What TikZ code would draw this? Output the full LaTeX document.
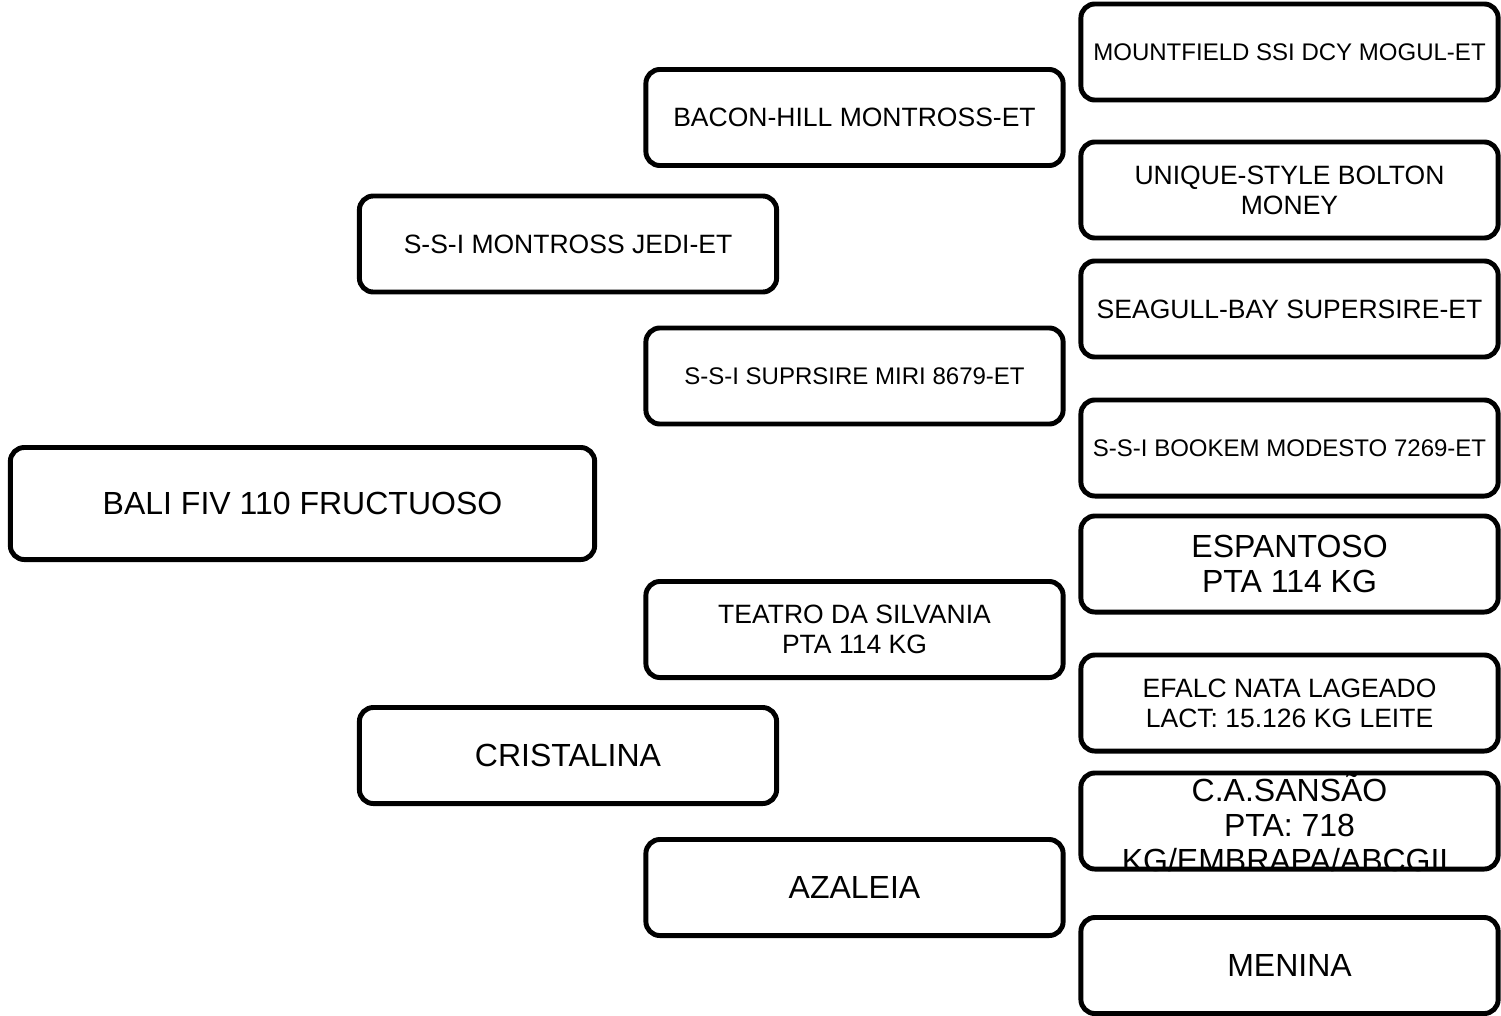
\documentclass[tikz,border=0pt]{standalone}
\usepackage{fontspec}
\setmainfont{Liberation Sans}
\newcommand{\smallname}{\fontsize{6.83}{7.7}\selectfont}
\newcommand{\midname}{\fontsize{7.54}{8.54}\selectfont}
\newcommand{\bigname}{\fontsize{9.1}{9.96}\selectfont}
\begin{document}
\begin{tikzpicture}[x=0.01cm,y=-0.01cm]
        \useasboundingbox (0,0) rectangle (1501,1015);

        \begin{scope}[every node/.style={rectangle,draw,line width=1.4pt,rounded corners=0.14cm,
                    minimum width=4.17cm,minimum height=0.96cm,inner sep=0pt,align=center,font=\midname}]
            % animal
            \node[font=\bigname,minimum width=5.84cm,minimum height=1.12cm] (bali) at (302.5,503.5) {BALI FIV 110 FRUCTUOSO};
            % parents
            \node (jedi) at (568,244) {S-S-I MONTROSS JEDI-ET};
            \node[font=\bigname] (cristalina) at (568,755.5) {CRISTALINA};
            % grandparents
            \node (bacon) at (854.5,117.5) {BACON-HILL MONTROSS-ET};
            \node[font=\smallname] (miri) at (854.5,376) {S-S-I SUPRSIRE MIRI 8679-ET};
            \node (teatro) at (854.5,629.5) {TEATRO DA SILVANIA\\PTA 114 KG};
            \node[font=\bigname] (azaleia) at (854.5,887.5) {AZALEIA};
            % great-grandparents
            \node[font=\smallname] (mogul) at (1289.5,52) {MOUNTFIELD SSI DCY MOGUL-ET};
            \node (money) at (1289.5,190) {UNIQUE-STYLE BOLTON\\MONEY};
            \node (supersire) at (1289.5,309) {SEAGULL-BAY SUPERSIRE-ET};
            \node[font=\smallname] (modesto) at (1289.5,448) {S-S-I BOOKEM MODESTO 7269-ET};
            \node[font=\bigname] (espantoso) at (1289.5,564) {ESPANTOSO\\PTA 114 KG};
            \node (lageado) at (1289.5,703) {EFALC NATA LAGEADO\\LACT: 15.126 KG LEITE};
            \node (sansao) at (1289.5,821) {};
            \node[font=\bigname] (menina) at (1289.5,965.5) {MENINA};
        \end{scope}

        \node[font=\bigname,align=center,inner sep=0pt] (sansaotext) at (1289.5,823) {C.A.SANSÃO\\PTA: 718\\KG/EMBRAPA/ABCGIL};
    \end{tikzpicture}
\end{document}
